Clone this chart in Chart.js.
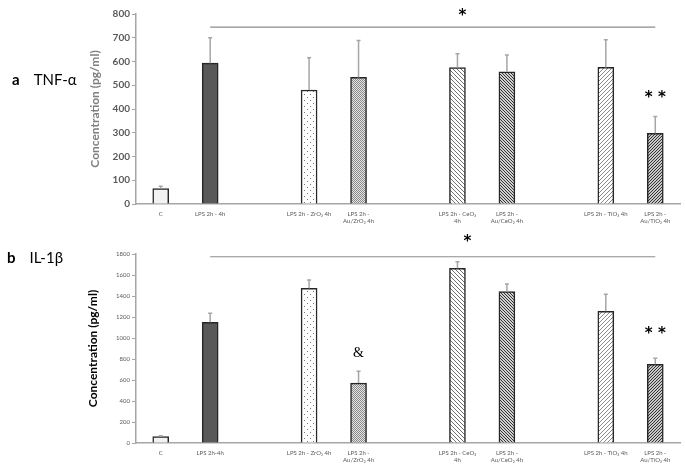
<!DOCTYPE html>
<html>
<head>
<meta charset="utf-8">
<script src="https://cdn.jsdelivr.net/npm/chart.js@4.4.1/dist/chart.umd.min.js"></script>
<style>
  body { margin: 0; background: #fff; }
  #wrap { position: relative; width: 685px; height: 469px; font-family: Lato, "Open Sans", sans-serif; }
  canvas { position: absolute; left: 0; }
  #chartA { top: 0; }
  #chartB { top: 230px; }
  .lbl { position: absolute; font-size: 15px; color: #000; }
  .lbl b { margin-right: 14px; }
</style>
</head>
<body>
<div id="wrap">
  <canvas id="chartA" width="685" height="230"></canvas>
  <canvas id="chartB" width="685" height="239"></canvas>
  <div class="lbl" style="left:12px; top:70px;"><b>a</b>TNF-α</div>
  <div class="lbl" style="left:7px; top:248px;"><b>b</b>IL-1β</div>
</div>
<script>
// group labels, empty slots are the gaps between groups
var labelsA = ['C', 'LPS 2h - 4h', '', 'LPS 2h - ZrO₂ 4h', ['LPS 2h -', 'Au/ZrO₂ 4h'], '',
  ['LPS 2h - CeO₂', '4h'], ['LPS 2h -', 'Au/CeO₂ 4h'], '', 'LPS 2h - TiO₂ 4h', ['LPS 2h -', 'Au/TiO₂ 4h']];
var labelsB = ['C', 'LPS 2h-4h', '', 'LPS 2h - ZrO₂ 4h', ['LPS 2h -', 'Au/ZrO₂ 4h'], '',
  ['LPS 2h - CeO₂', '4h'], ['LPS 2h -', 'Au/CeO₂ 4h'], '', 'LPS 2h - TiO₂ 4h', ['LPS 2h -', 'Au/TiO₂ 4h']];

var tnfValues = [65, 593, null, 480, 533, null, 574, 557, null, 575, 298];
var tnfErrors = [10, 107, null, 136, 155, null, 59, 70, null, 117, 70];
var il1bValues = [60, 1150, null, 1473, 571, null, 1664, 1441, null, 1254, 750];
var il1bErrors = [8, 85, null, 79, 112, null, 63, 73, null, 162, 57];

var ticksA = [0, 800, 100];
var ticksB = [0, 1800, 200];

// significance marks: [from index, to index, value] and [text, index, value]
var sigLineA = [1, 10, 745];
var sigLineB = [1, 10, 1774];
var marksA = [['*', 6.1, 790], ['**', 10, 445]];
var marksB = [['*', 6.2, 1915], ['&', 4, 850], ['**', 10, 1040]];

function makeTile(size, bg, fg, test) {
  var c = document.createElement('canvas');
  c.width = size; c.height = size;
  var g = c.getContext('2d');
  g.fillStyle = bg;
  g.fillRect(0, 0, size, size);
  g.fillStyle = fg;
  for (var x = 0; x < size; x++) {
    for (var y = 0; y < size; y++) {
      if (test(x, y, size)) g.fillRect(x, y, 1, 1);
    }
  }
  return g.createPattern(c, 'repeat');
}

function makeFills() {
  return [
    '#f2f2f2',
    '#595959',
    'rgba(0,0,0,0)',
    makeTile(6, '#ffffff', '#777777', function(x, y) { return (x === 1 && y === 1) || (x === 4 && y === 4); }),
    makeTile(2, '#e4e4e4', '#8a8a8a', function(x, y) { return (x + y) % 2 === 0; }),
    'rgba(0,0,0,0)',
    makeTile(4, '#ffffff', '#6f6f6f', function(x, y, s) { return x === y; }),
    makeTile(3, '#d0d0d0', '#333333', function(x, y, s) { return x === y; }),
    'rgba(0,0,0,0)',
    makeTile(4, '#ffffff', '#8a8a8a', function(x, y, s) { return x + y === s - 1; }),
    makeTile(3, '#c8c8c8', '#333333', function(x, y, s) { return x + y === s - 1; })
  ];
}

function errorBarPlugin(errors) {
  return {
    id: 'errorBars',
    afterDatasetsDraw: function(chart) {
      var ctx = chart.ctx;
      var xs = chart.scales.x, ys = chart.scales.y;
      var values = chart.data.datasets[0].data;
      ctx.save();
      ctx.strokeStyle = '#a6a6a6';
      ctx.lineWidth = 1.5;
      for (var i = 0; i < values.length; i++) {
        if (values[i] == null) continue;
        var x = xs.getPixelForValue(i);
        var y0 = ys.getPixelForValue(values[i]);
        var y1 = ys.getPixelForValue(values[i] + errors[i]);
        ctx.beginPath();
        ctx.moveTo(x, y0);
        ctx.lineTo(x, y1);
        ctx.moveTo(x - 2, y1);
        ctx.lineTo(x + 2, y1);
        ctx.stroke();
      }
      ctx.restore();
    }
  };
}

function sigPlugin(line, marks) {
  return {
    id: 'sigMarks',
    afterDraw: function(chart) {
      var ctx = chart.ctx;
      var xs = chart.scales.x, ys = chart.scales.y;
      ctx.save();
      ctx.strokeStyle = '#8c8c8c';
      ctx.lineWidth = 1.2;
      var ly = ys.getPixelForValue(line[2]);
      ctx.beginPath();
      ctx.moveTo(xs.getPixelForValue(line[0]), ly);
      ctx.lineTo(xs.getPixelForValue(line[1]), ly);
      ctx.stroke();
      ctx.fillStyle = '#000';
      ctx.textAlign = 'center';
      ctx.textBaseline = 'middle';
      marks.forEach(function(m) {
        ctx.font = m[0] === '&' ? '14px "Liberation Serif", serif' : 'bold 15px "DejaVu Sans", sans-serif';
        var txt = m[0] === '**' ? '* *' : m[0];
        ctx.fillText(txt, xs.getPixelForValue(m[1]), ys.getPixelForValue(m[2]));
      });
      ctx.restore();
    }
  };
}

function buildChart(id, labels, values, errors, range, line, marks, opts) {
  var canvas = document.getElementById(id);
  var ctx = canvas.getContext('2d');
  new Chart(ctx, {
    type: 'bar',
    data: {
      labels: labels,
      datasets: [
        {
          data: values,
          backgroundColor: makeFills(),
          borderColor: '#262626',
          borderWidth: 1.5,
          borderSkipped: 'bottom',
          barThickness: 16
        }
      ]
    },
    options: {
      responsive: false,
      animation: false,
      layout: {
        padding: { left: opts.padLeft, right: 5, top: opts.padTop, bottom: 0 }
      },
      plugins: {
        legend: { display: false },
        tooltip: { enabled: false }
      },
      scales: {
        x: {
          grid: { display: false, drawTicks: false },
          border: { color: '#a6a6a6', width: 1.5 },
          ticks: {
            autoSkip: false,
            maxRotation: 0,
            padding: 6,
            color: '#595959',
            font: { family: 'Lato', size: 6 }
          },
          afterFit: function(scale) { scale.height = 26; }
        },
        y: {
          min: range[0],
          max: range[1],
          grid: { drawOnChartArea: false, tickLength: 4, color: '#a6a6a6' },
          border: { color: '#a6a6a6', width: 1.5 },
          ticks: {
            stepSize: range[2],
            padding: 2,
            color: opts.tickColor,
            font: opts.tickFont,
            callback: function(v) { return String(v); }
          },
          title: {
            display: true,
            text: 'Concentration (pg/ml)',
            color: opts.titleColor,
            font: opts.titleFont
          },
          afterFit: function(scale) { scale.width = 136 - opts.padLeft; }
        }
      }
    },
    plugins: [errorBarPlugin(errors), sigPlugin(line, marks)]
  });
}

document.addEventListener('DOMContentLoaded', function() {
  buildChart('chartA', labelsA, tnfValues, tnfErrors, ticksA, sigLineA, marksA, {
    padLeft: 84, padTop: 14,
    tickColor: '#595959', tickFont: { family: 'Lato', size: 10, weight: 'bold' },
    titleColor: '#7f7f7f', titleFont: { family: 'Lato', size: 12, weight: 'bold' }
  });
  buildChart('chartB', labelsB, il1bValues, il1bErrors, ticksB, sigLineB, marksB, {
    padLeft: 82, padTop: 24,
    tickColor: '#595959', tickFont: { family: 'Lato', size: 6 },
    titleColor: '#000000', titleFont: { family: 'Lato', size: 12, weight: 'bold' }
  });
});
</script>
</body>
</html>
